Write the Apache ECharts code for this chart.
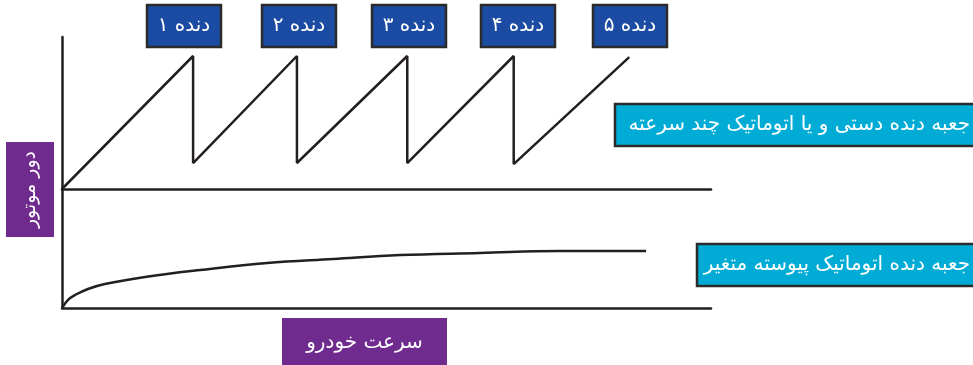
<!DOCTYPE html>
<html lang="fa">

<head>
    <meta charset="UTF-8">
    <title>دور موتور</title>
    <script src="https://cdn.jsdelivr.net/npm/echarts@6/dist/echarts.min.js"></script>
    <style>
        html, body { margin: 0; padding: 0; background: #fff; }
        #chart1 { width: 973px; height: 365px; }
    </style>
</head>

<body>
    <div id="chart1"></div>
    <script>
        // sawtooth: engine speed vs car speed, stepped gearbox (0-100 units)
        var gearData = [
            [0, 0], [20.2, 87.5], [20.2, 17.1], [36.2, 87.5], [36.2, 17.1],
            [53.2, 87.5], [53.2, 17.1], [69.6, 87.5], [69.6, 16.4], [87.4, 86.8]
        ];
        // continuous variable transmission curve
        var cvtData = [
            [0, 0], [0.9, 6.7], [2.0, 10.9], [4.0, 16.0], [6.6, 20.2], [12.8, 26.1],
            [21.3, 31.9], [31.6, 37.8], [41.8, 41.2], [52.1, 44.5], [64.4, 46.2],
            [76.7, 47.9], [90.0, 47.9]
        ];
        var gearLabels = ['دنده ۱', 'دنده ۲', 'دنده ۳', 'دنده ۴', 'دنده ۵'];
        var seriesNames = ['جعبه دنده دستی و یا اتوماتیک چند سرعته', 'جعبه دنده اتوماتیک پیوسته متغیر'];
        var yName = 'دور موتور';
        var xName = 'سرعت خودرو';

        var font = 'DejaVu Sans';
        var ink = '#231f20';

        function box(x, y, w, h, fill, border, text, opts) {
            opts = opts || {};
            return {
                type: 'group',
                children: [{
                    type: 'rect',
                    shape: { x: x, y: y, width: w, height: h },
                    style: { fill: fill, stroke: border ? '#2b2b2b' : null, lineWidth: border ? 2.5 : 0 }
                }, {
                    type: 'text',
                    x: opts.tx != null ? opts.tx : x + w / 2,
                    y: opts.ty != null ? opts.ty : y + h / 2,
                    rotation: opts.rot || 0,
                    style: {
                        text: text,
                        fill: '#fff',
                        font: (opts.size || 20) + 'px "' + font + '"',
                        align: opts.align || 'center',
                        verticalAlign: 'middle'
                    }
                }]
            };
        }

        // gear label boxes (left edges in px)
        var gearBoxX = [147, 262, 372, 481, 593];
        var graphics = gearLabels.map(function (t, i) {
            return box(gearBoxX[i], 5, 74, 42, '#1b4ba2', true, t, { size: 20 });
        });
        graphics.push(box(615, 104, 362, 42, '#00acd6', true, seriesNames[0], { tx: 970, align: 'right', size: 20 }));
        graphics.push(box(697, 244, 280, 42, '#00acd6', true, seriesNames[1], { tx: 970, align: 'right', size: 20 }));
        graphics.push(box(6, 142, 48, 95, '#6f2b8e', false, yName, { rot: Math.PI / 2, size: 19 }));
        graphics.push(box(282, 318, 165, 50, '#6f2b8e', false, xName, { ty: 343, size: 20 }));

        var axisLine = { show: true, lineStyle: { color: ink, width: 2.5 } };
        var hidden = { axisTick: { show: false }, axisLabel: { show: false }, splitLine: { show: false } };

        const chart1 = echarts.init(document.getElementById('chart1'));
        chart1.setOption({
            animation: false,
            grid: [
                { left: 62, top: 37, width: 649, height: 152 },
                { left: 62, top: 189, width: 649, height: 119 }
            ],
            xAxis: [
                Object.assign({ type: 'value', gridIndex: 0, min: 0, max: 100, axisLine: axisLine }, hidden),
                Object.assign({ type: 'value', gridIndex: 1, min: 0, max: 100, axisLine: axisLine }, hidden)
            ],
            yAxis: [
                Object.assign({ type: 'value', gridIndex: 0, min: 0, max: 100, axisLine: axisLine }, hidden),
                Object.assign({ type: 'value', gridIndex: 1, min: 0, max: 100, axisLine: axisLine }, hidden)
            ],
            series: [
                {
                    name: seriesNames[0],
                    type: 'line',
                    xAxisIndex: 0,
                    yAxisIndex: 0,
                    data: gearData,
                    showSymbol: false,
                    lineStyle: { color: ink, width: 2.5 }
                },
                {
                    name: seriesNames[1],
                    type: 'line',
                    xAxisIndex: 1,
                    yAxisIndex: 1,
                    data: cvtData,
                    smooth: 0.4,
                    showSymbol: false,
                    lineStyle: { color: ink, width: 2.5 }
                }
            ],
            graphic: graphics
        });
    </script>
</body>

</html>
